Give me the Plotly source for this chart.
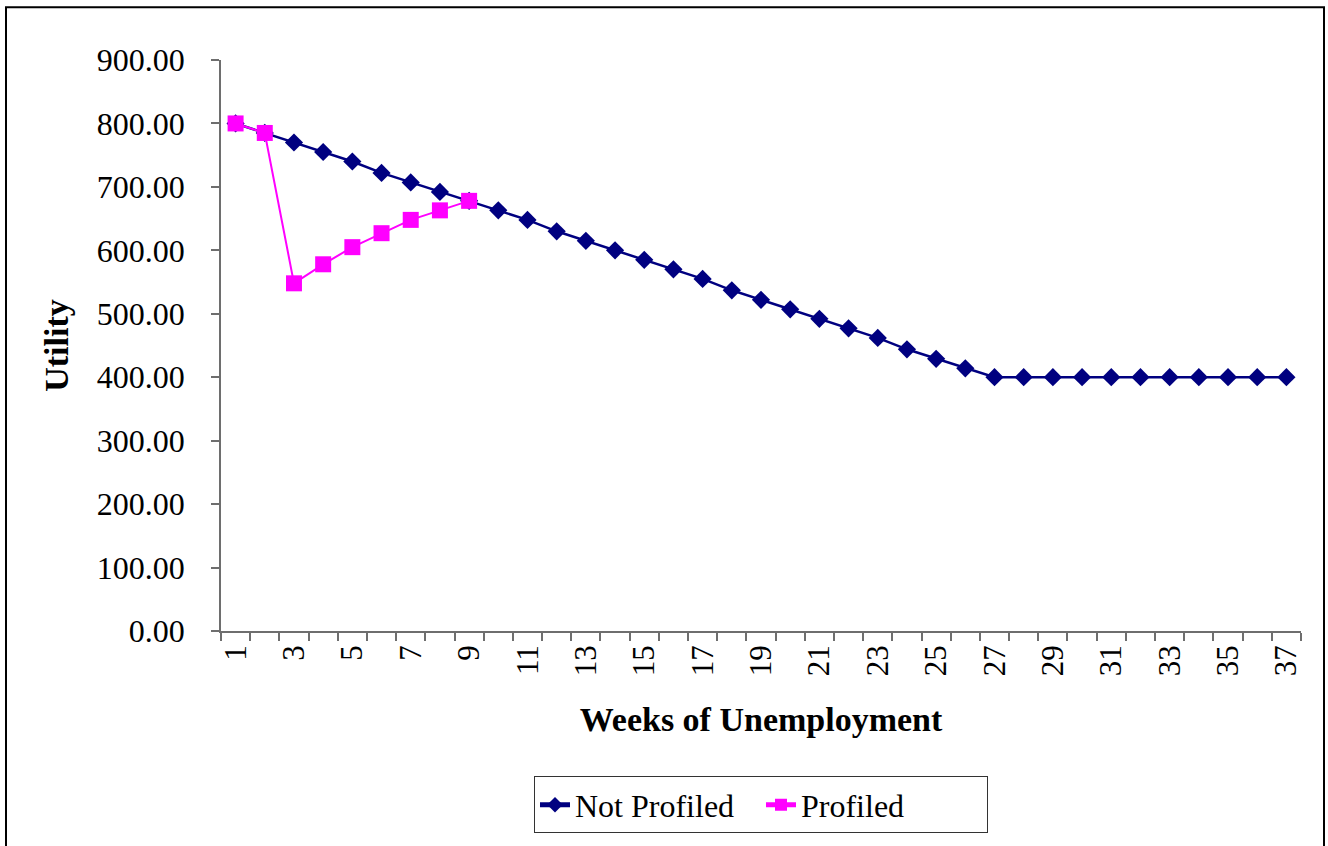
import plotly.graph_objects as go

# Weekly utility values over the unemployment spell
weeks = list(range(1, 38))
not_profiled = [800, 785, 770, 755, 740, 722, 707, 692, 678, 663,
                648, 630, 615, 600, 585, 570, 555, 537, 522, 507,
                492, 477, 462, 444, 429, 414, 400, 400, 400, 400,
                400, 400, 400, 400, 400, 400, 400]
profiled_weeks = list(range(1, 10))
profiled = [800, 785, 548, 578, 605, 627, 648, 663, 678]

y_ticks = [0, 100, 200, 300, 400, 500, 600, 700, 800, 900]
x_tick_weeks = list(range(1, 38, 2))
x_tick_text = [str(w) for w in x_tick_weeks]

FONT = "Times New Roman, Liberation Serif, serif"
AXIS_GREY = "#6e6e6e"

W, H = 1328, 846
L, R, T, B = 221, 27, 60, 213
pw, ph = W - L - R, H - T - B


def px_x(x):
    return (x - L) / pw


def px_y(y):
    return (H - B - y) / ph


fig = go.Figure()
fig.add_trace(go.Scatter(
    x=weeks, y=not_profiled, name="Not Profiled", mode="lines+markers",
    line=dict(color="#000080", width=2.5),
    marker=dict(symbol="diamond", size=14, color="#000080"),
))
fig.add_trace(go.Scatter(
    x=profiled_weeks, y=profiled, name="Profiled", mode="lines+markers",
    line=dict(color="#FF00FF", width=2),
    marker=dict(symbol="square", size=16, color="#FF00FF"),
))

fig.update_layout(
    width=W, height=H,
    margin=dict(l=L, r=R, t=T, b=B, pad=0),
    paper_bgcolor="white", plot_bgcolor="white",
    font=dict(family=FONT, size=32, color="black"),
    showlegend=True,
    legend=dict(
        orientation="h", x=0.5, xanchor="center",
        y=px_y(779), yanchor="top",
        bordercolor="#333333", borderwidth=1,
        font=dict(family=FONT, size=32),
        itemsizing="constant",
        entrywidth=181, entrywidthmode="pixels",
    ),
    xaxis=dict(
        range=[0.5, 37.5], showgrid=False, zeroline=False,
        showline=True, linecolor=AXIS_GREY, linewidth=1.5,
        tickmode="array", tickvals=x_tick_weeks, ticktext=x_tick_text,
        ticks="", tickangle=-90, tickfont=dict(size=31),
        minor=dict(tickmode="linear", tick0=0.5, dtick=1,
                   ticks="outside", ticklen=8, tickcolor=AXIS_GREY,
                   tickwidth=1.5, showgrid=False),
        title=dict(text="<b>Weeks of Unemployment</b>",
                   font=dict(size=34), standoff=32),
    ),
    yaxis=dict(
        range=[0, 900], showgrid=False, zeroline=False,
        showline=True, linecolor=AXIS_GREY, linewidth=1.5,
        tickmode="array", tickvals=y_ticks, tickformat=".2f",
        ticks="outside", ticklen=8, tickcolor=AXIS_GREY, tickwidth=1.5,
        ticklabelstandoff=20,
        title=dict(text="<b>Utility</b>", font=dict(size=34), standoff=18),
    ),
    shapes=[dict(
        type="rect", xref="paper", yref="paper",
        x0=px_x(6), x1=px_x(1324), y0=px_y(870), y1=px_y(7),
        line=dict(color="black", width=2), fillcolor="rgba(0,0,0,0)",
        layer="below",
    )],
)

fig.write_html("out.html")
